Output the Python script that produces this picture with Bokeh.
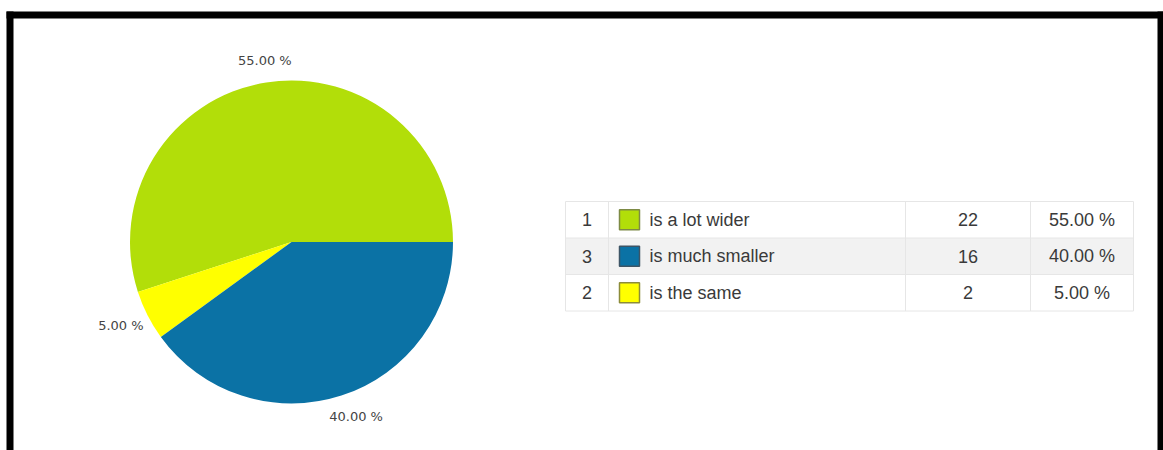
import math
from bokeh.plotting import figure
from bokeh.models import Range1d, ColumnDataSource
from bokeh.core.properties import value
from bokeh.embed import file_html
from bokeh.resources import INLINE

# ---- data ----
answer_ids = [1, 2, 3]
answers = ["is a lot wider", "is the same", "is much smaller"]
counts = [22, 2, 16]
percents = [55.00, 5.00, 40.00]
slice_colors = ["#b2de09", "#ffff00", "#0b72a5"]
square_borders = ["#7d8a45", "#8c8c3a", "#3d5566"]

W, H = 1163, 450
p = figure(width=W, height=H, output_backend="svg", toolbar_location=None,
           x_range=Range1d(0, W), y_range=Range1d(0, H), min_border=0)
p.axis.visible = False
p.grid.visible = False
p.outline_line_color = None
p.background_fill_color = "white"
p.border_fill_color = "white"

def Y(v):
    return H - v

# ---- frame ----
p.quad(left=[6, 6, 1157], right=[1163, 13, 1163],
       top=[Y(11), Y(11), Y(11)], bottom=[Y(18), Y(460), Y(460)],
       fill_color="black", line_color=None)

# ---- pie ----
cx, cy, r = 291, Y(241.5), 161.5
starts, ends, mids = [], [], []
acc = 0.0
for pc in percents:
    a0 = acc / 100 * 2 * math.pi
    acc += pc
    a1 = acc / 100 * 2 * math.pi
    starts.append(a0)
    ends.append(a1)
    mids.append((a0 + a1) / 2)

pie_src = ColumnDataSource(dict(start=starts, end=ends, color=slice_colors))
p.wedge(x=cx, y=cy, radius=r, start_angle="start", end_angle="end",
        direction="anticlock", fill_color="color", line_color=None, source=pie_src)

lx = [cx + 196 * math.cos(m) + 4 for m in mids]
ly = [cy + 184 * math.sin(m) for m in mids]
lt = ["%.2f %%" % v for v in percents]
p.text(x=lx, y=ly, text=lt, text_font=value("DejaVu Sans"), text_font_size="13px",
       text_color="#444444", text_align="center", text_baseline="middle")

# ---- table ----
order = sorted(range(len(counts)), key=lambda i: -counts[i])
col_edges = [565, 608, 905, 1030, 1133]
row_top = 201
row_h = 36.5
n = len(order)

bg_top, bg_bot, bg_col = [], [], []
for k in range(n):
    bg_top.append(Y(row_top + k * row_h))
    bg_bot.append(Y(row_top + (k + 1) * row_h))
    bg_col.append("#f2f2f2" if k % 2 == 1 else "white")
p.quad(left=col_edges[0], right=col_edges[-1], top=bg_top, bottom=bg_bot,
       fill_color=bg_col, line_color=None)

hx0, hy = [], []
for k in range(n + 1):
    yy = Y(row_top + k * row_h)
    hx0.append([col_edges[0], col_edges[-1]])
    hy.append([yy, yy])
p.multi_line(xs=hx0, ys=hy, line_color="#e6e6e6", line_width=1)
vx, vy = [], []
for e in col_edges:
    vx.append([e, e])
    vy.append([Y(row_top), Y(row_top + n * row_h)])
p.multi_line(xs=vx, ys=vy, line_color="#e6e6e6", line_width=1)

rc = [Y(row_top + (k + 0.5) * row_h) for k in range(n)]
font = value("Liberation Sans")
fs = "18px"
tc = "#3a3a3a"
p.text(x=(col_edges[0] + col_edges[1]) / 2, y=rc, text=[str(answer_ids[i]) for i in order],
       text_font=font, text_font_size=fs, text_color=tc,
       text_align="center", text_baseline="middle")
p.rect(x=629, y=rc, width=20, height=20,
       fill_color=[slice_colors[i] for i in order],
       line_color=[square_borders[i] for i in order], line_width=1.5)
p.text(x=649, y=rc, text=[answers[i] for i in order],
       text_font=font, text_font_size=fs, text_color=tc,
       text_align="left", text_baseline="middle")
p.text(x=(col_edges[2] + col_edges[3]) / 2, y=rc, text=[str(counts[i]) for i in order],
       text_font=font, text_font_size=fs, text_color=tc,
       text_align="center", text_baseline="middle")
p.text(x=(col_edges[3] + col_edges[4]) / 2, y=rc, text=["%.2f %%" % percents[i] for i in order],
       text_font=font, text_font_size=fs, text_color=tc,
       text_align="center", text_baseline="middle")

open("out.html", "w").write(file_html(p, INLINE))
